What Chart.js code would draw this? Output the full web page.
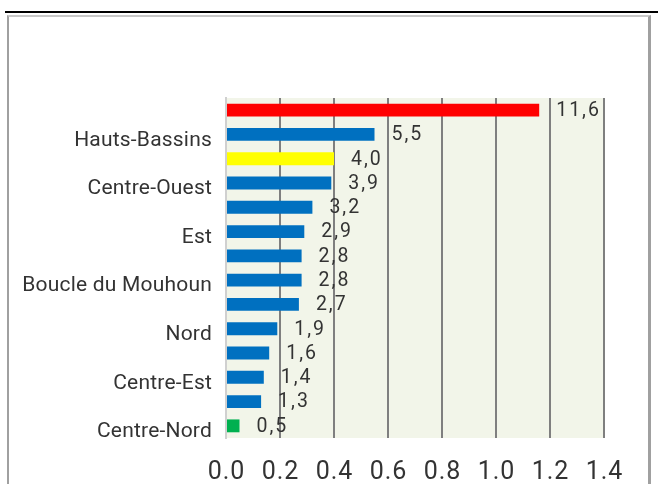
<!DOCTYPE html>
<html>
<head>
<meta charset="utf-8">
<script src="https://cdn.jsdelivr.net/npm/chart.js@4"></script>
<style>
  html, body { margin: 0; padding: 0; background: #fff; }
  #wrap { position: relative; width: 658px; height: 484px; overflow: hidden; }
  #topline { position: absolute; left: 5px; top: 11px; width: 653px; height: 2px; background: #000; }
  #frame { position: absolute; left: 7px; top: 15px; width: 639px; height: 480px;
           border-left: 2px solid #a0a0a0; border-top: 2px solid #c8c8c8; border-right: 3px solid #a0a0a0; }
  canvas { position: absolute; left: 0; top: 0; }
</style>
</head>
<body>
<div id="wrap">
  <div id="topline"></div>
  <div id="frame"></div>
  <canvas id="c" width="658" height="484"></canvas>
</div>
<script>
const categories = ['Centre', 'Hauts-Bassins', 'Burkina Faso', 'Centre-Ouest', 'Cascades', 'Est',
  'Sud-Ouest', 'Boucle du Mouhoun', 'Centre-Sud', 'Nord', 'Plateau-Central', 'Centre-Est',
  'Sahel', 'Centre-Nord'];
const values = [1.16, 0.55, 0.40, 0.39, 0.32, 0.29, 0.28, 0.28, 0.27, 0.19, 0.16, 0.14, 0.13, 0.05];
const valueLabels = ['11,6', '5,5', '4,0', '3,9', '3,2', '2,9', '2,8', '2,8', '2,7', '1,9', '1,6', '1,4', '1,3', '0,5'];
const barColors = ['#ff0000', '#0070c0', '#ffff00', '#0070c0', '#0070c0', '#0070c0', '#0070c0',
  '#0070c0', '#0070c0', '#0070c0', '#0070c0', '#0070c0', '#0070c0', '#00b050'];
const xTicks = [0, 0.2, 0.4, 0.6, 0.8, 1.0, 1.2, 1.4];

const bgPlugin = {
  id: 'plotBg',
  beforeDraw(chart) {
    const a = chart.chartArea, ctx = chart.ctx;
    ctx.save();
    ctx.fillStyle = '#f2f5e9';
    ctx.fillRect(a.left, a.top, a.right - a.left, a.bottom - a.top);
    ctx.restore();
  }
};
function wrapSpacing(scale, ls) {
  if (!scale || scale._lsWrapped) return;
  const orig = scale.drawLabels;
  scale.drawLabels = function (area) {
    const ctx = this.ctx;
    ctx.save();
    ctx.letterSpacing = ls;
    orig.call(this, area);
    ctx.restore();
  };
  scale._lsWrapped = true;
}
const spacingPlugin = {
  id: 'spacing',
  afterLayout(chart) {
    wrapSpacing(chart.scales.x, '1px');
    wrapSpacing(chart.scales.y, '0.2px');
  }
};
const labelPlugin = {
  id: 'valLabels',
  afterDatasetsDraw(chart) {
    const ctx = chart.ctx;
    const meta = chart.getDatasetMeta(0);
    ctx.save();
    ctx.font = '19.5px Roboto';
    ctx.letterSpacing = '2px';
    ctx.fillStyle = '#333333';
    ctx.textAlign = 'left';
    ctx.textBaseline = 'middle';
    meta.data.forEach((bar, i) => {
      ctx.fillText(valueLabels[i], bar.x + 17, bar.y + 1);
    });
    ctx.restore();
  }
};

new Chart(document.getElementById('c'), {
  type: 'bar',
  data: {
    labels: categories,
    datasets: [{
      data: values,
      backgroundColor: barColors,
      barPercentage: 0.53,
      categoryPercentage: 1.0
    }]
  },
  options: {
    indexAxis: 'y',
    responsive: false,
    animation: false,
    events: [],
    layout: { padding: { left: 0, right: 54, top: 98, bottom: 0 } },
    plugins: { legend: { display: false }, tooltip: { enabled: false } },
    scales: {
      x: {
        min: 0, max: 1.4,
        afterBuildTicks(scale) { scale.ticks = xTicks.map(v => ({ value: v })); },
        afterFit(scale) { scale.height = 46; },
        grid: {
          drawTicks: false,
          color: ctx => ctx.index === 0 ? 'rgba(0,0,0,0)' : '#7f7f7f',
          lineWidth: 2
        },
        border: { display: false },
        ticks: {
          padding: 20,
          labelOffset: 0.5,
          color: '#333333',
          font: { family: 'Roboto', size: 25 },
          callback: v => Number(v).toFixed(1)
        }
      },
      y: {
        afterFit(scale) { scale.width = 226; },
        grid: { display: false, drawTicks: false },
        border: { display: true, color: '#d0d0d0', width: 2 },
        ticks: {
          autoSkip: false,
          padding: 14,
          labelOffset: 6,
          color: '#333333',
          font: { family: 'Roboto', size: 21 },
          callback: function (v, i) { return i % 2 === 1 ? categories[i] : ''; }
        }
      }
    }
  },
  plugins: [bgPlugin, spacingPlugin, labelPlugin]
});
</script>
</body>
</html>
